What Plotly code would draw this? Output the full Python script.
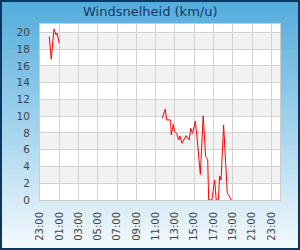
import plotly.graph_objects as go

# ---- data ----
seg1_times = ["2024-01-01 23:58", "2024-01-02 00:10", "2024-01-02 00:27", "2024-01-02 00:40",
              "2024-01-02 00:46", "2024-01-02 00:52", "2024-01-02 01:00"]
seg1_vals = [19.5, 16.8, 20.4, 19.7, 19.9, 19.5, 18.7]

seg2_times = ["2024-01-02 11:41", "2024-01-02 12:00", "2024-01-02 12:08", "2024-01-02 12:33",
              "2024-01-02 12:37", "2024-01-02 12:50", "2024-01-02 12:58", "2024-01-02 13:11",
              "2024-01-02 13:23", "2024-01-02 13:31", "2024-01-02 13:44", "2024-01-02 14:09",
              "2024-01-02 14:29", "2024-01-02 14:38", "2024-01-02 14:50", "2024-01-02 15:07",
              "2024-01-02 15:19", "2024-01-02 15:38", "2024-01-02 15:56", "2024-01-02 16:11",
              "2024-01-02 16:24", "2024-01-02 16:30", "2024-01-02 16:50", "2024-01-02 17:07",
              "2024-01-02 17:17", "2024-01-02 17:30", "2024-01-02 17:38", "2024-01-02 17:47",
              "2024-01-02 18:03", "2024-01-02 18:18", "2024-01-02 18:26", "2024-01-02 18:43",
              "2024-01-02 18:51"]
seg2_vals = [9.75, 10.86, 9.55, 9.55, 7.76, 9.03, 8.15, 7.95, 7.16, 7.64, 6.76, 7.67,
             7.16, 8.55, 7.95, 9.43, 7.16, 3.06, 10.06, 5.17, 4.85, 0, 0, 2.39, 0, 0,
             2.86, 2.39, 8.95, 2.78, 0.8, 0.32, 0]

x_start = "2024-01-01 23:00"
x_end = "2024-01-02 23:54"
title_text = "Windsnelheid (km/u)"

W, H = 300, 250
ML, MR, MT, MB = 40, 20, 24, 50
pw, ph = W - ML - MR, H - MT - MB


def px_x(p):
    return (p - ML) / pw


def px_y(p):
    return (H - MB - p) / ph


def lerp(c1, c2, t):
    return tuple(round(a + (b - a) * t) for a, b in zip(c1, c2))


top_c = (0x52, 0xab, 0xdb)
mid_c = (0xa8, 0xd6, 0xee)
bot_c = (0xf6, 0xfa, 0xfd)

shapes = []
N = 50
for i in range(N):
    y0 = H * i / N
    y1 = H * (i + 1) / N + 0.6
    t = (i + 0.5) / N
    if t < 0.54:
        c = lerp(top_c, mid_c, t / 0.54)
    else:
        c = lerp(mid_c, bot_c, (t - 0.54) / 0.46)
    shapes.append(dict(type="rect", xref="paper", yref="paper", layer="below",
                       x0=px_x(0), x1=px_x(W), y0=px_y(y1), y1=px_y(y0),
                       fillcolor="rgb(%d,%d,%d)" % c, line=dict(width=0)))

# plot area background and bands
shapes.append(dict(type="rect", xref="paper", yref="paper", layer="below",
                   x0=0, x1=1, y0=0, y1=1, fillcolor="white", line=dict(width=0)))
for b in range(2, 21, 4):
    shapes.append(dict(type="rect", xref="paper", yref="y", layer="below",
                       x0=0, x1=1, y0=b, y1=b + 2, fillcolor="#f2f2f2", line=dict(width=0)))

# outer border
shapes.append(dict(type="rect", xref="paper", yref="paper", layer="above",
                   x0=px_x(1), x1=px_x(W - 1), y0=px_y(H - 1), y1=px_y(1),
                   fillcolor="rgba(0,0,0,0)", line=dict(color="#0b3663", width=2)))

x_all = seg1_times + [None] + seg2_times
y_all = seg1_vals + [None] + seg2_vals

fig = go.Figure()
fig.add_trace(go.Scatter(x=x_all, y=y_all, mode="lines",
                         line=dict(color="#ff0000", width=1), connectgaps=False,
                         hoverinfo="skip"))

fig.update_layout(
    width=W, height=H,
    margin=dict(l=ML, r=MR, t=MT, b=MB, pad=0, autoexpand=False),
    paper_bgcolor="rgba(0,0,0,0)",
    plot_bgcolor="rgba(0,0,0,0)",
    showlegend=False,
    shapes=shapes,
    font=dict(family="DejaVu Sans", size=10.5, color="#444444"),
    annotations=[dict(text=title_text, xref="paper", yref="paper",
                      x=px_x(W / 2), y=px_y(11.5), xanchor="center", yanchor="middle",
                      showarrow=False,
                      font=dict(family="DejaVu Sans", size=13, color="#123a62"))],
    xaxis=dict(type="date", range=[x_start, x_end], tick0=x_start, dtick=7200000,
               tickformat="%H:%M", tickangle=-90, showgrid=True, gridcolor="#d2d2d2",
               gridwidth=1, showline=True, linecolor="#cccccc", linewidth=1, mirror=True,
               ticks="outside", ticklen=7, tickcolor="rgba(0,0,0,0)", zeroline=False,
               tickfont=dict(size=10),
               automargin=False, fixedrange=True),
    yaxis=dict(range=[0, 21], dtick=2, tick0=0, showgrid=True, gridcolor="#d2d2d2",
               gridwidth=1, showline=True, linecolor="#cccccc", linewidth=1, mirror=True,
               ticks="outside", ticklen=7, tickcolor="rgba(0,0,0,0)", zeroline=False,
               automargin=False, fixedrange=True),
)

fig.write_html("out.html", config=dict(displayModeBar=False))
